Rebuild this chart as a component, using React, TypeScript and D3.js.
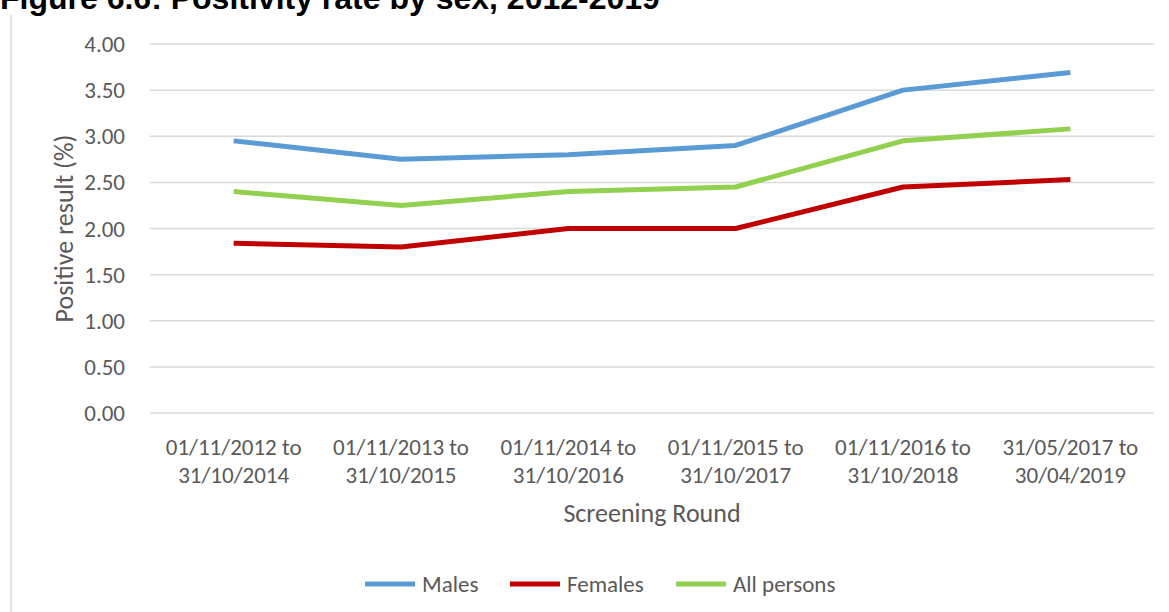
import * as React from "react";
import { scaleBand, scaleLinear, line, range } from "d3";

const rounds = [
  ["01/11/2012 to", "31/10/2014"],
  ["01/11/2013 to", "31/10/2015"],
  ["01/11/2014 to", "31/10/2016"],
  ["01/11/2015 to", "31/10/2017"],
  ["01/11/2016 to", "31/10/2018"],
  ["31/05/2017 to", "30/04/2019"],
];
const males = [2.95, 2.75, 2.8, 2.9, 3.5, 3.69];
const females = [1.84, 1.8, 2.0, 2.0, 2.45, 2.53];
const allPersons = [2.4, 2.25, 2.4, 2.45, 2.95, 3.08];
const yTicks = [0, 0.5, 1, 1.5, 2, 2.5, 3, 3.5, 4];

const seriesList = [
  { name: "Males", values: males, color: "#5b9bd5" },
  { name: "Females", values: females, color: "#c00000" },
  { name: "All persons", values: allPersons, color: "#92d050" },
];

const font = "Carlito, Lato, 'Liberation Sans', sans-serif";

export default function App() {
  const width = 1169;
  const height = 612;
  const left = 150, right = 1154, top = 44, bottom = 413;

  const xScale = scaleBand()
    .domain(range(rounds.length).map((d) => `${d}`))
    .range([left, right]);
  const yScale = scaleLinear().domain([0, 4]).range([bottom, top]);
  const cx = (i: number) => (xScale(`${i}`) as number) + xScale.bandwidth() / 2;

  const path = line<number>()
    .x((_, i) => cx(i))
    .y((d) => yScale(d));

  // legend layout
  const legendX = [365, 510, 676];

  return (
    <svg
      width={width}
      height={height}
      style={{ position: "absolute", left: 0, top: 0, background: "white" }}
    >
      <text
        x={0}
        y={9}
        fontFamily="'Liberation Sans', Arial, sans-serif"
        fontWeight="bold"
        fontSize={32}
        fill="#000"
      >
        Figure 6.6:  Positivity rate by sex, 2012-2019
      </text>
      <line x1={11} x2={11} y1={15} y2={height} stroke="#d9d9d9" strokeWidth={1.5} />

      {yTicks.map((t) => (
        <g key={t}>
          <line x1={left} x2={right} y1={yScale(t)} y2={yScale(t)} stroke="#d9d9d9" strokeWidth={1.5} />
          <text
            x={125}
            y={yScale(t)}
            dy="0.35em"
            textAnchor="end"
            fontFamily={font}
            fontSize={23}
            fill="#595959"
          >
            {t.toFixed(2)}
          </text>
        </g>
      ))}

      {rounds.map((r, i) => (
        <text key={i} textAnchor="middle" fontFamily={font} fontSize={23} fill="#595959">
          <tspan x={cx(i)} y={455}>{r[0]}</tspan>
          <tspan x={cx(i)} y={483}>{r[1]}</tspan>
        </text>
      ))}

      <text
        x={652}
        y={522}
        textAnchor="middle"
        fontFamily={font}
        fontSize={26}
        fill="#595959"
      >
        Screening Round
      </text>
      <text
        transform={`translate(73,${(top + bottom) / 2}) rotate(-90)`}
        textAnchor="middle"
        fontFamily={font}
        fontSize={26}
        fill="#595959"
      >
        Positive result (%)
      </text>

      {seriesList.map((s) => (
        <path
          key={s.name}
          d={path(s.values) as string}
          fill="none"
          stroke={s.color}
          strokeWidth={5}
          strokeLinejoin="round"
        />
      ))}

      {seriesList.map((s, i) => (
        <g key={s.name} transform={`translate(${legendX[i]},584)`}>
          <line x1={0} x2={50} y1={0} y2={0} stroke={s.color} strokeWidth={5} />
          <text x={57} y={0} dy="0.35em" fontFamily={font} fontSize={23} fill="#595959">
            {s.name}
          </text>
        </g>
      ))}
    </svg>
  );
}
